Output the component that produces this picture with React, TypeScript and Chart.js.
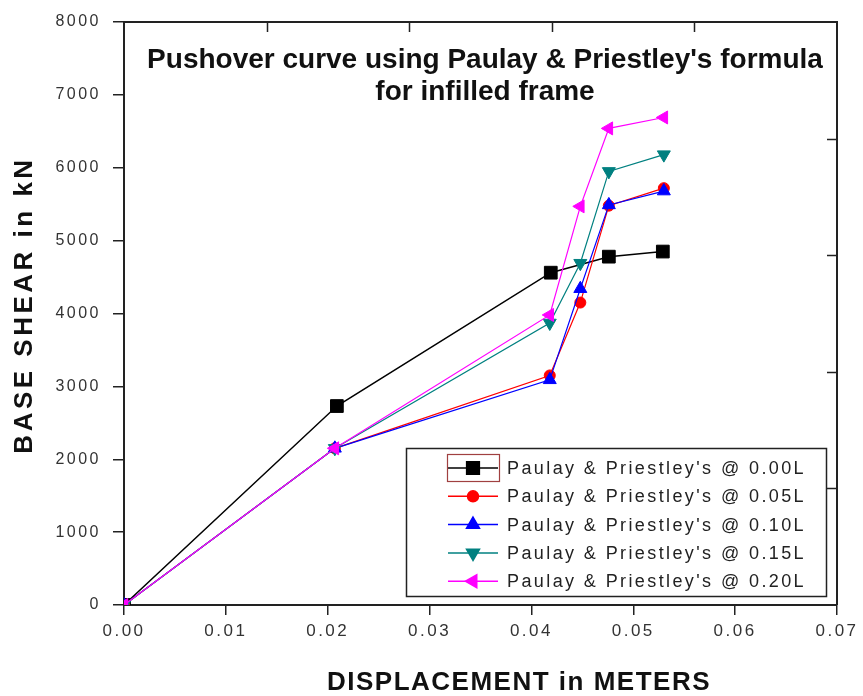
import { useEffect, useRef } from "react";
import { Chart, registerables } from "chart.js";
import { drawPoint } from "chart.js/helpers";

Chart.register(...registerables);

// Displacement (m) and base shear (kN) for each infill-width case
const dispBare = [0, 0.0209, 0.0419, 0.0476, 0.0529];
const shearBare = [0, 2730, 4560, 4780, 4850];
const dispInfill = [0, 0.0207, 0.0418, 0.0448, 0.0476, 0.053];
const shear005 = [0, 2150, 3150, 4150, 5480, 5720];
const shear010 = [0, 2150, 3090, 4340, 5490, 5680];
const shear015 = [0, 2150, 3870, 4690, 5950, 6180];
const shear020 = [0, 2150, 3980, 5470, 6540, 6690];

const seriesLabels = [
  "Paulay & Priestley's @ 0.00L",
  "Paulay & Priestley's @ 0.05L",
  "Paulay & Priestley's @ 0.10L",
  "Paulay & Priestley's @ 0.15L",
  "Paulay & Priestley's @ 0.20L",
];
const seriesColors = ["#000000", "#ff0000", "#0000ff", "#008080", "#ff00ff"];

const titleLines = ["Pushover curve using Paulay & Priestley's formula", "for infilled frame"];
const xTitle = "DISPLACEMENT in METERS";
const yTitle = "BASE SHEAR in kN";

// Ticks on the top and right frame edges (five divisions each)
const topTicks = [0.014, 0.028, 0.042, 0.056];
const rightTicks = [1600, 3200, 4800, 6400];

const FONT = "'Liberation Sans', Arial, sans-serif";

const pts = (xs: number[], ys: number[]) => xs.map((x, i) => ({ x, y: ys[i] }));

const decorPlugin = {
  id: "decor",
  beforeDraw(chart: any) {
    (chart.ctx as any).letterSpacing = "2.5px";
  },
  afterDraw(chart: any) {
    const ctx = chart.ctx as CanvasRenderingContext2D & { letterSpacing: string };
    const { left, right, top, bottom } = chart.chartArea;
    const xs = chart.scales.x;
    const ys = chart.scales.y;
    ctx.save();

    // frame: top and right edges with inward ticks
    ctx.strokeStyle = "#222";
    ctx.lineWidth = 2;
    ctx.beginPath();
    ctx.moveTo(left, top);
    ctx.lineTo(right, top);
    ctx.lineTo(right, bottom);
    ctx.stroke();
    ctx.lineWidth = 1.5;
    ctx.beginPath();
    topTicks.forEach((v) => {
      const px = Math.round(xs.getPixelForValue(v)) + 0.5;
      ctx.moveTo(px, top);
      ctx.lineTo(px, top + 10);
    });
    rightTicks.forEach((v) => {
      const py = Math.round(ys.getPixelForValue(v)) + 0.5;
      ctx.moveTo(right, py);
      ctx.lineTo(right - 10, py);
    });
    ctx.stroke();

    // plot title
    ctx.fillStyle = "#111";
    ctx.textAlign = "center";
    ctx.textBaseline = "middle";
    ctx.letterSpacing = "0px";
    ctx.font = `bold 28px ${FONT}`;
    const cx = 485;
    ctx.fillText(titleLines[0], cx, 60);
    ctx.fillText(titleLines[1], cx, 92);

    // axis titles
    ctx.font = `bold 26px ${FONT}`;
    ctx.letterSpacing = "1.5px";
    ctx.fillText(xTitle, 519, 683);
    ctx.save();
    ctx.translate(25, 305);
    ctx.rotate(-Math.PI / 2);
    ctx.font = `bold 26px ${FONT}`;
    ctx.letterSpacing = "3.5px";
    ctx.fillText(yTitle, 0, 0);
    ctx.restore();

    // legend
    const lx = 406.5, ly = 448.5, lw = 420, lh = 148;
    ctx.fillStyle = "#fff";
    ctx.fillRect(lx, ly, lw, lh);
    ctx.strokeStyle = "#222";
    ctx.lineWidth = 1.5;
    ctx.strokeRect(lx, ly, lw, lh);
    ctx.font = `18px ${FONT}`;
    ctx.letterSpacing = "2.4px";
    ctx.textAlign = "left";
    chart.data.datasets.forEach((ds: any, i: number) => {
      const y = 468 + i * 28.3;
      ctx.strokeStyle = ds.borderColor;
      ctx.lineWidth = 1.5;
      ctx.beginPath();
      ctx.moveTo(448, y);
      ctx.lineTo(498, y);
      ctx.stroke();
      ctx.fillStyle = ds.pointBackgroundColor;
      ctx.strokeStyle = ds.pointBorderColor;
      drawPoint(ctx, {
        pointStyle: ds.pointStyle,
        rotation: ds.pointRotation || 0,
        radius: ds.pointRadius,
        borderWidth: 1,
      } as any, 473, y);
      ctx.fillStyle = "#222";
      ctx.fillText(ds.label, 507, y + 1);
    });
    ctx.strokeStyle = "#a04040";
    ctx.lineWidth = 1.2;
    ctx.strokeRect(447.5, 454.5, 52, 27);
    ctx.restore();
  },
};

export default function App() {
  const ref = useRef<HTMLCanvasElement>(null);

  useEffect(() => {
    const mk = (i: number, xs: number[], ys: number[], style: string, radius: number, rotation: number) => ({
      label: seriesLabels[i],
      data: pts(xs, ys),
      showLine: true,
      borderColor: seriesColors[i],
      backgroundColor: seriesColors[i],
      pointBackgroundColor: seriesColors[i],
      pointBorderColor: seriesColors[i],
      borderWidth: i === 0 ? 1.5 : 1.2,
      pointStyle: style,
      pointRadius: radius,
      pointRotation: rotation,
      pointBorderWidth: 1,
      order: 4 - i,
    });

    const chart = new Chart(ref.current!, {
      type: "line",
      data: {
        datasets: [
          mk(0, dispBare, shearBare, "rect", 9, 0),
          mk(1, dispInfill, shear005, "circle", 5.5, 0),
          mk(2, dispInfill, shear010, "triangle", 7.5, 0),
          mk(3, dispInfill, shear015, "triangle", 7.5, 180),
          mk(4, dispInfill, shear020, "triangle", 7.5, -90),
        ] as any,
      },
      options: {
        animation: false,
        responsive: false,
        maintainAspectRatio: false,
        layout: { padding: { top: 22, right: 26, left: 0, bottom: 0 } },
        plugins: { legend: { display: false }, tooltip: { enabled: false } },
        elements: { line: { tension: 0 } },
        scales: {
          x: {
            type: "linear",
            min: 0,
            max: 0.07,
            grid: { drawOnChartArea: false, drawTicks: true, tickLength: 10, color: "#222", lineWidth: 1.5 },
            border: { display: true, color: "#222", width: 2 },
            ticks: {
              stepSize: 0.01,
              padding: 6,
              color: "#333",
              font: { family: FONT, size: 17 },
              maxRotation: 0,
              callback: (v: any) => Number(v).toFixed(2),
            },
            afterFit: (s: any) => { s.height = 91; },
          },
          y: {
            type: "linear",
            min: 0,
            max: 8000,
            grid: { drawOnChartArea: false, drawTicks: true, tickLength: 11, color: "#222", lineWidth: 1.5 },
            border: { display: true, color: "#222", width: 2 },
            ticks: {
              stepSize: 1000,
              padding: 12,
              color: "#333",
              font: { family: FONT, size: 16 },
              callback: (v: any) => String(v),
            },
            afterFit: (s: any) => { s.width = 124; },
          },
        },
      },
      plugins: [decorPlugin],
    });
    return () => chart.destroy();
  }, []);

  return (
    <div style={{ position: "absolute", left: 0, top: 0, width: 863, height: 696, background: "#fff" }}>
      <canvas ref={ref} width={863} height={696} style={{ display: "block" }} />
    </div>
  );
}
